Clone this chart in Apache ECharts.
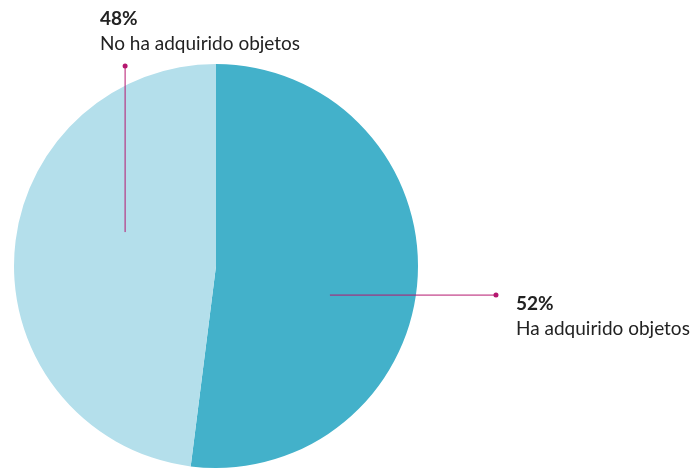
<!DOCTYPE html>
<html>
<head>
<meta charset="utf-8">
<script src="https://cdn.jsdelivr.net/npm/echarts@6/dist/echarts.min.js"></script>
<style>
  html, body { margin: 0; padding: 0; background: #fff; }
  #chart { width: 692px; height: 468px; }
</style>
</head>
<body>
<div id="chart"></div>
<script>
var categories = ['Ha adquirido objetos', 'No ha adquirido objetos'];
var values = [52, 48];
var colors = ['#43b1ca', '#b4dfeb'];

// pie geometry
var cx = 216, cy = 266, r = 202;
var lineColor = '#b5176f';

// label line points, as fractions of the radius around the centre
var linePts = [
    [[0.564, 0.144], [1.386, 0.144]],
    [[-0.45, -0.168], [-0.45, -0.99]]
];
var labelPos = [[516, 292], [100, 7]];

function toPx(p){
    return [cx + p[0] * r, cy + p[1] * r];
}

var pieData = [];
for (var i = 0; i < categories.length; i++) {
    pieData.push({ value: values[i], name: categories[i], itemStyle: { color: colors[i] } });
}

// label lines, end dots and label texts
var graphics = [];
linePts.forEach(function(pts, i){
    var s = toPx(pts[0]), e = toPx(pts[1]);
    graphics.push({
        type: 'polyline',
        shape: { points: [s, e] },
        style: { stroke: lineColor, lineWidth: 1, fill: null },
        z: 100
    });
    graphics.push({
        type: 'circle',
        shape: { cx: e[0], cy: e[1], r: 2.5 },
        style: { fill: lineColor },
        z: 100
    });
    graphics.push({
        type: 'text',
        x: labelPos[i][0],
        y: labelPos[i][1],
        z: 100,
        style: {
            text: '{p|' + values[i] + '%}\n{n|' + categories[i] + '}',
            align: 'left',
            verticalAlign: 'top',
            rich: {
                p: { fontFamily: 'Lato', fontSize: 19, fontWeight: 'bold', fill: '#222', lineHeight: 24 },
                n: { fontFamily: 'Lato', fontSize: 19, fill: '#222', lineHeight: 26 }
            }
        }
    });
});

var option = {
    animation: false,
    graphic: graphics,
    series: [
        {
            type: 'pie',
            center: [cx, cy],
            radius: [0, r],
            startAngle: 90,
            clockwise: true,
            silent: true,
            data: pieData,
            label: { show: false },
            labelLine: { show: false }
        }
    ]
};

var chart = echarts.init(document.getElementById('chart'));
chart.setOption(option);
</script>
</body>
</html>
